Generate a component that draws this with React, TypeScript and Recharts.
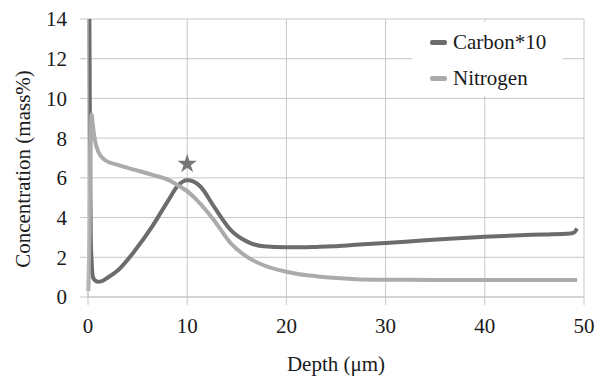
import React from 'react';
import { ComposedChart, Line, Scatter, XAxis, YAxis, ZAxis, CartesianGrid, Legend } from 'recharts';

const FONT = '"Liberation Serif", Tinos, "DejaVu Serif", "Times New Roman", serif';

const xTicks = [0, 10, 20, 30, 40, 50];
const yTicks = [0, 2, 4, 6, 8, 10, 12, 14];

// Carbon*10 profile (depth in µm, concentration mass%)
const carbonDepth = [0.12, 0.2, 0.28, 0.36, 0.5, 0.7, 1.0, 1.4, 2.0, 3.05, 4.75, 6.44, 8.1, 9.1, 10.0, 10.6, 11.35, 12.7, 14.4, 16, 17.7, 20, 21.5, 23, 24.7, 27, 30, 33, 36, 40, 43, 46, 48.6, 49, 49.3];
const carbonConc = [16, 8, 3, 1.85, 1.0, 0.84, 0.77, 0.8, 0.98, 1.36, 2.35, 3.53, 4.87, 5.63, 5.88, 5.82, 5.55, 4.55, 3.37, 2.8, 2.55, 2.5, 2.5, 2.52, 2.55, 2.63, 2.72, 2.82, 2.92, 3.03, 3.1, 3.15, 3.2, 3.25, 3.45];

// Nitrogen profile
const nitrogenDepth = [0.03, 0.15, 0.25, 0.35, 0.5, 0.7, 1.0, 1.7, 3.0, 4.75, 6.5, 8.1, 9.3, 9.8, 11, 12.7, 14.4, 16, 17.7, 20, 21.3, 23, 24.7, 27, 30, 35, 40, 45, 49.3];
const nitrogenConc = [0.3, 3, 7, 9.2, 8.6, 7.9, 7.35, 6.9, 6.65, 6.4, 6.15, 5.9, 5.55, 5.4, 4.87, 3.87, 2.7, 2.03, 1.6, 1.27, 1.15, 1.05, 0.97, 0.9, 0.87, 0.86, 0.85, 0.85, 0.85];

// star marker above carbon peak
const starPoint = [{ x: 10, y: 6.7 }];

const carbonData = carbonDepth.map((x, i) => ({ x, y: carbonConc[i] }));
const nitrogenData = nitrogenDepth.map((x, i) => ({ x, y: nitrogenConc[i] }));

const renderLegend = (props: any) => {
  const items = (props.payload || []).filter((e: any) => e.type !== 'none');
  return (
    <div
      style={{
        background: '#fff',
        width: 151,
        height: 74,
        boxSizing: 'border-box',
        paddingLeft: 18,
        paddingTop: 2,
        fontFamily: FONT,
        fontSize: 21,
        color: '#1a1a1a',
      }}
    >
      {items.map((entry: any, index: number) => (
        <div key={`legend-${index}`} style={{ display: 'flex', alignItems: 'center', height: 36 }}>
          <span
            style={{ width: 17, height: 5, background: entry.color, borderRadius: 2, marginRight: 6 }}
          ></span>
          <span>{entry.value}</span>
        </div>
      ))}
    </div>
  );
};

export default function App() {
  return (
    <div style={{ position: 'absolute', left: 0, top: 0 }}>
      <ComposedChart width={605} height={377} margin={{ top: 19, right: 21, left: 0, bottom: 0 }}>
        <CartesianGrid stroke="#c6c6c6" strokeWidth={1} />
        <XAxis
          dataKey="x"
          type="number"
          domain={[0, 50]}
          ticks={xTicks}
          height={80}
          tickSize={8}
          tickMargin={13}
          stroke="#c6c6c6"
          tick={{ fill: '#1a1a1a', fontSize: 21, fontFamily: FONT }}
          label={{
            content: () => (
              <text x={336} y={371} textAnchor="middle" fill="#1a1a1a" fontSize={21} fontFamily={FONT}>
                Depth (μm)
              </text>
            ),
          }}
        />
        <YAxis
          type="number"
          domain={[0, 14]}
          ticks={yTicks}
          allowDataOverflow
          width={88}
          tickSize={8}
          tickMargin={13}
          stroke="#c6c6c6"
          tick={{ fill: '#1a1a1a', fontSize: 21, fontFamily: FONT }}
          label={{
            content: () => (
              <text
                x={30}
                y={169}
                transform="rotate(-90, 30, 169)"
                textAnchor="middle"
                fill="#1a1a1a"
                fontSize={21}
                fontFamily={FONT}
              >
                Concentration (mass%)
              </text>
            ),
          }}
        />
        <ZAxis range={[115, 115]} />
        <Legend
          layout="horizontal"
          verticalAlign="middle"
          align="center"
          wrapperStyle={{ left: 412, top: 22, width: 151, height: 74 }}
          content={renderLegend}
        />
        <Line
          data={carbonData}
          dataKey="y"
          name="Carbon*10"
          type="monotone"
          stroke="#6c6c6c"
          strokeWidth={4}
          dot={false}
          isAnimationActive={false}
        />
        <Line
          data={nitrogenData}
          dataKey="y"
          name="Nitrogen"
          type="monotone"
          stroke="#ababab"
          strokeWidth={4}
          dot={false}
          isAnimationActive={false}
        />
        <Scatter
          data={starPoint}
          dataKey="y"
          shape="star"
          fill="#777777"
          legendType="none"
          isAnimationActive={false}
        />
      </ComposedChart>
    </div>
  );
}
